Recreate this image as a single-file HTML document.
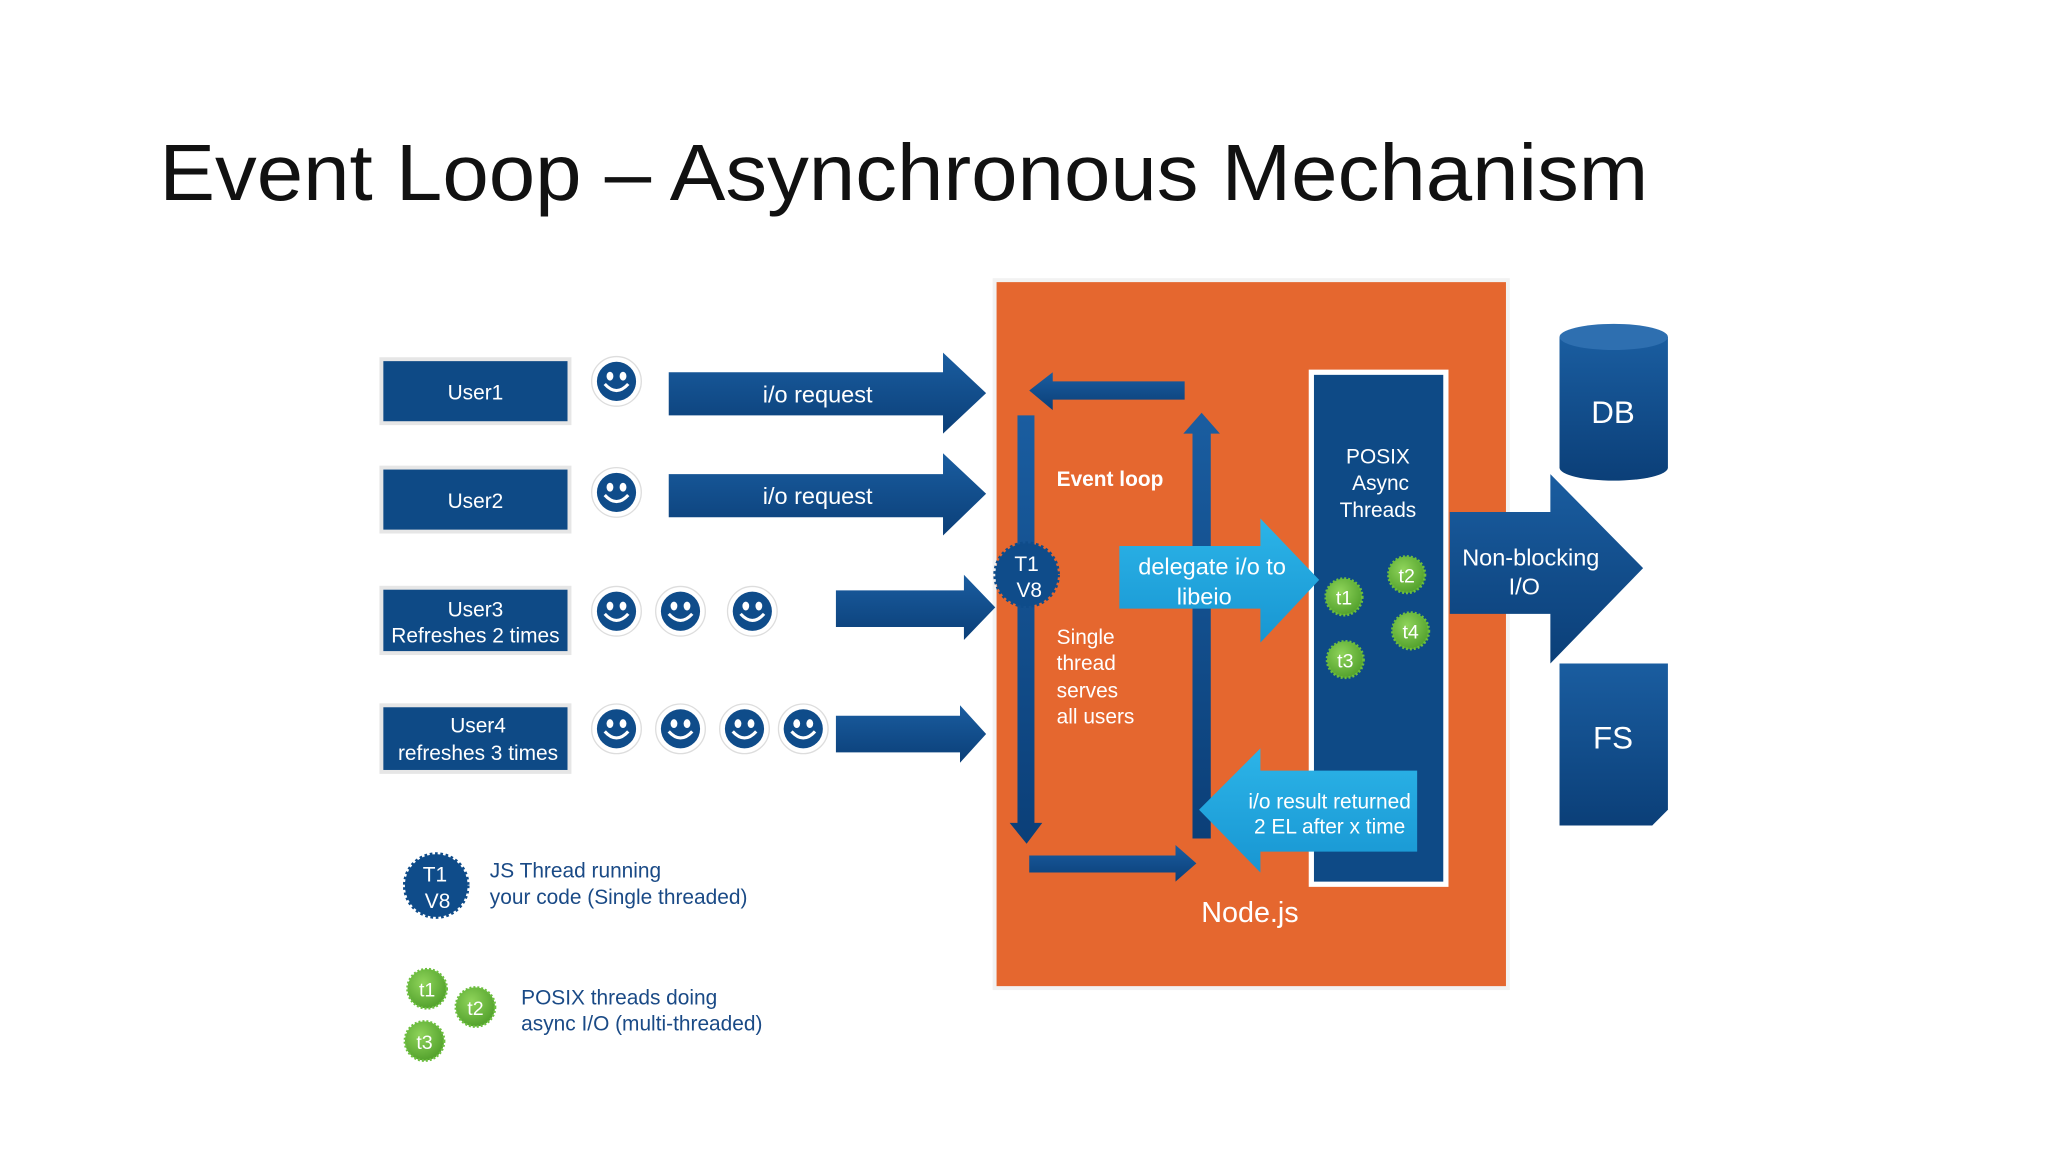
<!DOCTYPE html>
<html><head><meta charset="utf-8"><style>html,body{margin:0;padding:0;background:#fff}svg{display:block}</style></head>
<body>
<svg width="2048" height="1152" viewBox="0 0 1568 882" xmlns="http://www.w3.org/2000/svg" font-family="Liberation Sans, sans-serif">
<defs>
<linearGradient id="nv" x1="0" y1="0" x2="0" y2="1"><stop offset="0" stop-color="#1a5da0"/><stop offset="1" stop-color="#0b3f78"/></linearGradient>
<linearGradient id="lb" x1="0" y1="0" x2="0" y2="1"><stop offset="0" stop-color="#2cb4e8"/><stop offset="1" stop-color="#1896d2"/></linearGradient>
<radialGradient id="gr" cx="0.4" cy="0.35" r="0.7"><stop offset="0" stop-color="#8fd45a"/><stop offset="1" stop-color="#4f9e2a"/></radialGradient>
<g id="face"><circle r="19" fill="#fff" stroke="#ddd" stroke-width="1"/><circle r="15" fill="#0f4c8a"/><ellipse cx="-5" cy="-4" rx="2.6" ry="3.4" fill="#fff"/><ellipse cx="5" cy="-4" rx="2.6" ry="3.4" fill="#fff"/><path d="M-9 2 Q0 12 9 2" stroke="#fff" stroke-width="2.4" fill="none"/></g>
<g id="star"><circle r="24" fill="#0f4c8a" stroke="#0f4c8a" stroke-width="3" stroke-dasharray="2 2"/></g>
</defs>
<text x="122" y="153" font-size="61" fill="#111" textLength="1140" lengthAdjust="spacingAndGlyphs">Event Loop – Asynchronous Mechanism</text>

<rect x="760" y="213" width="396" height="545" fill="#f2f2f2"/>
<rect x="763" y="216" width="390" height="539" fill="#e5672f"/>
<rect x="1002" y="283" width="107" height="396" fill="#fff"/>
<rect x="1006" y="287" width="99" height="388" fill="#0e4a86"/>

<g fill="#0e4a86" stroke="#e6e6e6" stroke-width="3">
<rect x="292" y="275" width="144" height="49"/><rect x="292" y="358" width="144" height="49"/>
<rect x="292" y="450" width="144" height="50"/><rect x="292" y="540" width="144" height="51"/></g>
<g fill="#fff" font-size="16" text-anchor="middle">
<text x="364" y="306">User1</text><text x="364" y="389">User2</text>
<text x="364" y="472">User3</text><text x="364" y="492">Refreshes 2 times</text>
<text x="366" y="561">User4</text><text x="366" y="582">refreshes 3 times</text></g>

<use href="#face" x="472" y="292"/><use href="#face" x="472" y="377"/>
<use href="#face" x="472" y="468"/><use href="#face" x="521" y="468"/><use href="#face" x="576" y="468"/>
<use href="#face" x="472" y="558"/><use href="#face" x="521" y="558"/><use href="#face" x="570" y="558"/><use href="#face" x="615" y="558"/>

<g fill="url(#nv)">
<path d="M512 285 H722 V270 L755 301 L722 332 V318 H512Z"/>
<path d="M512 363 H722 V347 L755 378 L722 410 V396 H512Z"/>
<path d="M640 452 H738 V440 L762 465 L738 490 V480 H640Z"/>
<path d="M640 548 H735 V540 L755 562 L735 584 V576 H640Z"/>
<path d="M779 318 H792 V630 H798 L786 646 L773 630 H779Z"/>
<path d="M907 292 V306 H806 V314 L788 299 L806 285 V292Z"/>
<path d="M913 642 V332 H906 L920 316 L934 332 H927 V642Z"/>
<path d="M788 655 H900 V647 L916 661 L900 675 V668 H788Z"/>
<path d="M1110 392 H1187 V363 L1258 435 L1187 508 V470 H1110Z"/>
</g>
<g fill="#fff" font-size="18" text-anchor="middle"><text x="626" y="308">i/o request</text><text x="626" y="386">i/o request</text>
<text x="1172" y="433">Non-blocking</text><text x="1167" y="455">I/O</text></g>

<use href="#star" x="786" y="440"/>
<g fill="#fff" font-size="16" text-anchor="middle"><text x="786" y="437">T1</text><text x="788" y="457">V8</text></g>
<text x="809" y="372" fill="#fff" font-size="16" font-weight="bold">Event loop</text>
<g fill="#fff" font-size="16"><text x="809" y="493">Single</text><text x="809" y="513">thread</text><text x="809" y="534">serves</text><text x="809" y="554">all users</text></g>

<path d="M857 418 H965 V397 L1010 444 L965 492 V466 H857Z" fill="url(#lb)"/>
<g fill="#fff" font-size="18" text-anchor="middle"><text x="928" y="440">delegate i/o to</text><text x="922" y="463">libeio</text></g>
<g fill="#fff" font-size="16" text-anchor="middle"><text x="1055" y="355">POSIX</text><text x="1057" y="375">Async</text><text x="1055" y="396">Threads</text></g>
<g fill="url(#gr)" stroke="#6cbf3e" stroke-width="2" stroke-dasharray="1.5 1.5">
<circle cx="1029" cy="457" r="14"/><circle cx="1077" cy="440" r="14"/><circle cx="1030" cy="505" r="14"/><circle cx="1080" cy="483" r="14"/>
<circle cx="327" cy="757" r="15"/><circle cx="364" cy="771" r="15"/><circle cx="325" cy="797" r="15"/></g>
<g fill="#fff" font-size="15" text-anchor="middle">
<text x="1029" y="463">t1</text><text x="1077" y="446">t2</text><text x="1030" y="511">t3</text><text x="1080" y="489">t4</text>
<text x="327" y="763">t1</text><text x="364" y="777">t2</text><text x="325" y="803">t3</text></g>

<path d="M1085 590 V652 H965 V668 L918 620 L965 573 V590Z" fill="url(#lb)"/>
<g fill="#fff" font-size="16" text-anchor="middle"><text x="1018" y="619">i/o result returned</text><text x="1018" y="638">2 EL after x time</text></g>
<text x="957" y="706" fill="#fff" font-size="22" text-anchor="middle">Node.js</text>

<path d="M1194 258 V358 A41.5 10 0 0 0 1277 358 V258Z" fill="url(#nv)"/>
<ellipse cx="1235.5" cy="258" rx="41.5" ry="10" fill="#2e6fb0"/>
<text x="1235" y="324" fill="#fff" font-size="24" text-anchor="middle">DB</text>
<path d="M1194 508 H1277 V620 L1265 632 H1194Z" fill="url(#nv)"/>
<text x="1235" y="573" fill="#fff" font-size="24" text-anchor="middle">FS</text>

<use href="#star" x="334" y="678"/>
<g fill="#fff" font-size="16" text-anchor="middle"><text x="333" y="675">T1</text><text x="335" y="695">V8</text></g>
<g fill="#1a4a86" font-size="16"><text x="375" y="672">JS Thread running</text><text x="375" y="692">your code (Single threaded)</text>
<text x="399" y="769">POSIX threads doing</text><text x="399" y="789">async I/O (multi-threaded)</text></g>
</svg>
</body></html>
